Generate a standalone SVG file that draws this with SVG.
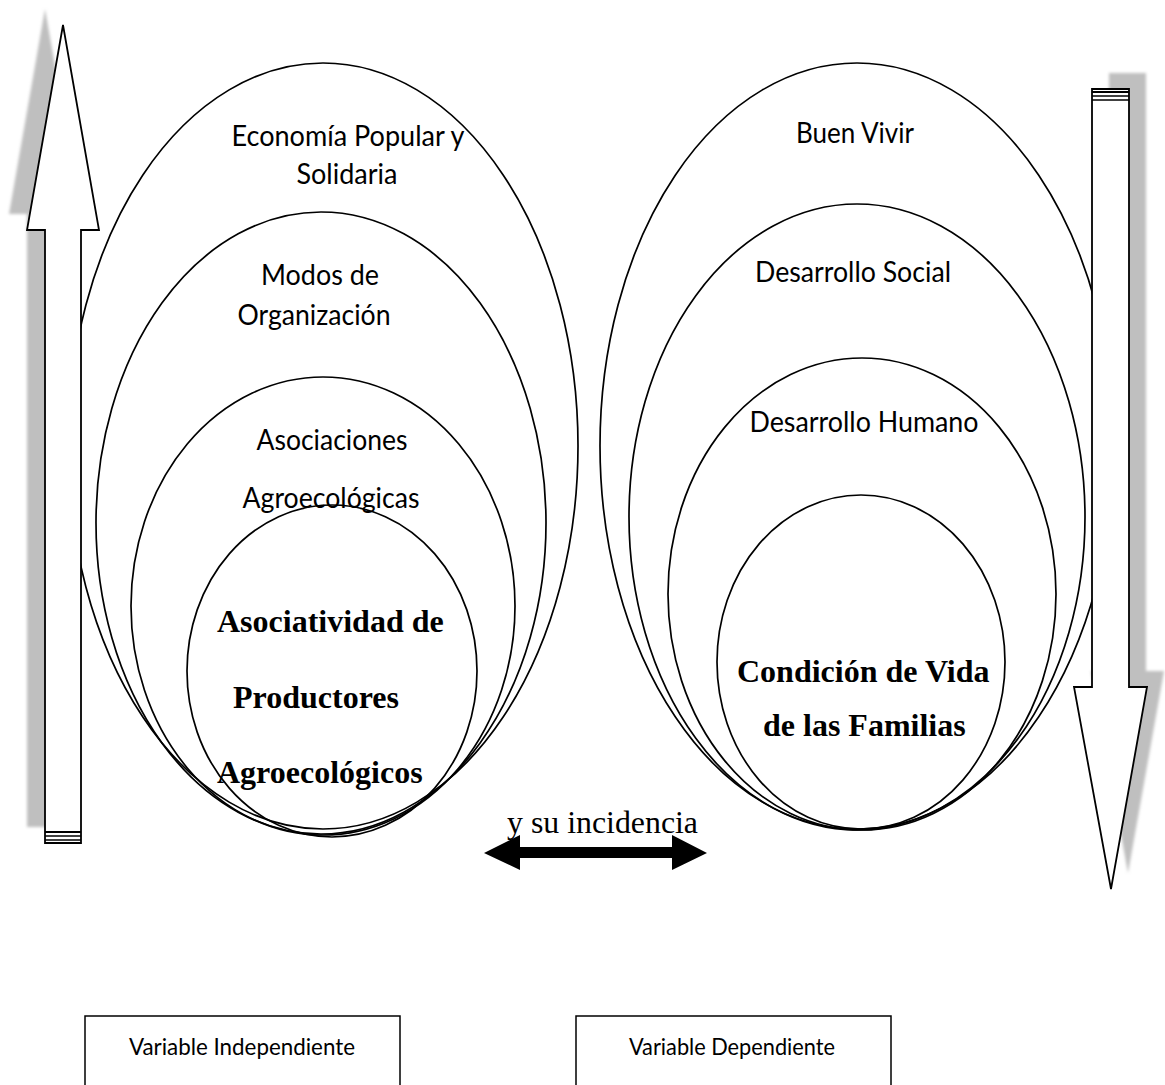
<svg xmlns="http://www.w3.org/2000/svg" width="1165" height="1085" viewBox="0 0 1165 1085">
<style>
.ell{fill:none;stroke:#000;stroke-width:1.7}
.arr{fill:#fff;stroke:#000;stroke-width:1.8;stroke-linejoin:miter}
.shadow{fill:#bfbfbf;stroke:none}
.lbl{font-family:Lato,"Liberation Sans",sans-serif;font-size:29px;fill:#000}
.big{font-family:"Liberation Serif",serif;font-size:32px;font-weight:bold;fill:#000}
.ser{font-family:"Liberation Serif",serif;font-size:32px;fill:#000}
.box{fill:#fff;stroke:#000;stroke-width:1.5}
.var{font-family:Lato,"Liberation Sans",sans-serif;font-size:24px;fill:#000}
</style>
<defs>
<filter id="blur" x="-20%" y="-5%" width="140%" height="110%"><feGaussianBlur stdDeviation="1.5"/></filter>
</defs>
<rect width="1165" height="1085" fill="#fff"/>

<g id="left-group">
  <g id="node-economia">
    <ellipse class="ell" cx="323" cy="446" rx="255" ry="383"/>
    <text class="lbl" x="348" y="146" text-anchor="middle" textLength="233" lengthAdjust="spacingAndGlyphs">Economía Popular y</text>
    <text class="lbl" x="347" y="184" text-anchor="middle" textLength="101" lengthAdjust="spacingAndGlyphs">Solidaria</text>
  </g>
  <g id="node-modos">
    <ellipse class="ell" cx="321" cy="523" rx="225" ry="311"/>
    <text class="lbl" x="320" y="285" text-anchor="middle" textLength="118" lengthAdjust="spacingAndGlyphs">Modos de</text>
    <text class="lbl" x="314" y="325" text-anchor="middle" textLength="153" lengthAdjust="spacingAndGlyphs">Organización</text>
  </g>
  <g id="node-asociaciones">
    <ellipse class="ell" cx="323" cy="606" rx="192" ry="229"/>
    <text class="lbl" x="332" y="450" text-anchor="middle" textLength="151" lengthAdjust="spacingAndGlyphs">Asociaciones</text>
    <text class="lbl" x="331" y="508" text-anchor="middle" textLength="177" lengthAdjust="spacingAndGlyphs">Agroecológicas</text>
  </g>
  <g id="node-asociatividad">
    <ellipse class="ell" cx="332" cy="671" rx="145" ry="166"/>
    <text class="big" x="217" y="632">Asociatividad de</text>
    <text class="big" x="233" y="708">Productores</text>
    <text class="big" x="217" y="783">Agroecológicos</text>
  </g>
</g>

<g id="right-group">
  <g id="node-buen-vivir">
    <ellipse class="ell" cx="857" cy="446" rx="257" ry="383"/>
    <text class="lbl" x="855" y="143" text-anchor="middle" textLength="118" lengthAdjust="spacingAndGlyphs">Buen Vivir</text>
  </g>
  <g id="node-desarrollo-social">
    <ellipse class="ell" cx="857" cy="517" rx="228" ry="313"/>
    <text class="lbl" x="853" y="282" text-anchor="middle" textLength="196" lengthAdjust="spacingAndGlyphs">Desarrollo Social</text>
  </g>
  <g id="node-desarrollo-humano">
    <ellipse class="ell" cx="862" cy="594" rx="194" ry="236"/>
    <text class="lbl" x="864" y="432" text-anchor="middle" textLength="229" lengthAdjust="spacingAndGlyphs">Desarrollo Humano</text>
  </g>
  <g id="node-condicion">
    <ellipse class="ell" cx="861" cy="662" rx="144" ry="167"/>
    <text class="big" x="737" y="682">Condición de Vida</text>
    <text class="big" x="763" y="736">de las Familias</text>
  </g>
</g>

<g id="connectors">
  <g id="arrow-up">
    <polygon class="shadow" filter="url(#blur)" points="45,9 81,214 63,214 63,827 27,827 27,214 9,214"/>
    <polygon class="arr" points="63,25 99,230 81,230 81,843 45,843 45,230 27,230"/>
    <line x1="45" y1="832" x2="81" y2="832" stroke="#000" stroke-width="1.8"/>
    <line x1="45" y1="836" x2="81" y2="836" stroke="#000" stroke-width="1.5"/>
    <line x1="45" y1="840" x2="81" y2="840" stroke="#000" stroke-width="1.5"/>
  </g>
  <g id="arrow-down">
    <polygon class="shadow" filter="url(#blur)" points="1109,73 1146,73 1146,671 1164,671 1128,873 1091,671 1109,671"/>
    <polygon class="arr" points="1092,89 1129,89 1129,687 1147,687 1111,889 1074,687 1092,687"/>
    <line x1="1092" y1="92" x2="1129" y2="92" stroke="#000" stroke-width="1.8"/>
    <line x1="1092" y1="96" x2="1129" y2="96" stroke="#000" stroke-width="1.5"/>
    <line x1="1092" y1="100" x2="1129" y2="100" stroke="#000" stroke-width="1.5"/>
  </g>
  <g id="arrow-both">
    <polygon fill="#000" points="484,853 520,835 520,847 672,847 672,835 707,853 672,870 672,858 520,858 520,870"/>
    <text class="ser" x="507" y="833" textLength="191" lengthAdjust="spacingAndGlyphs">y su incidencia</text>
  </g>
</g>

<g id="box-independiente">
  <rect class="box" x="85" y="1016" width="315" height="80"/>
  <text class="var" x="242" y="1055" text-anchor="middle" textLength="226" lengthAdjust="spacingAndGlyphs">Variable Independiente</text>
</g>
<g id="box-dependiente">
  <rect class="box" x="576" y="1016" width="315" height="80"/>
  <text class="var" x="732" y="1055" text-anchor="middle" textLength="206" lengthAdjust="spacingAndGlyphs">Variable Dependiente</text>
</g>
</svg>
